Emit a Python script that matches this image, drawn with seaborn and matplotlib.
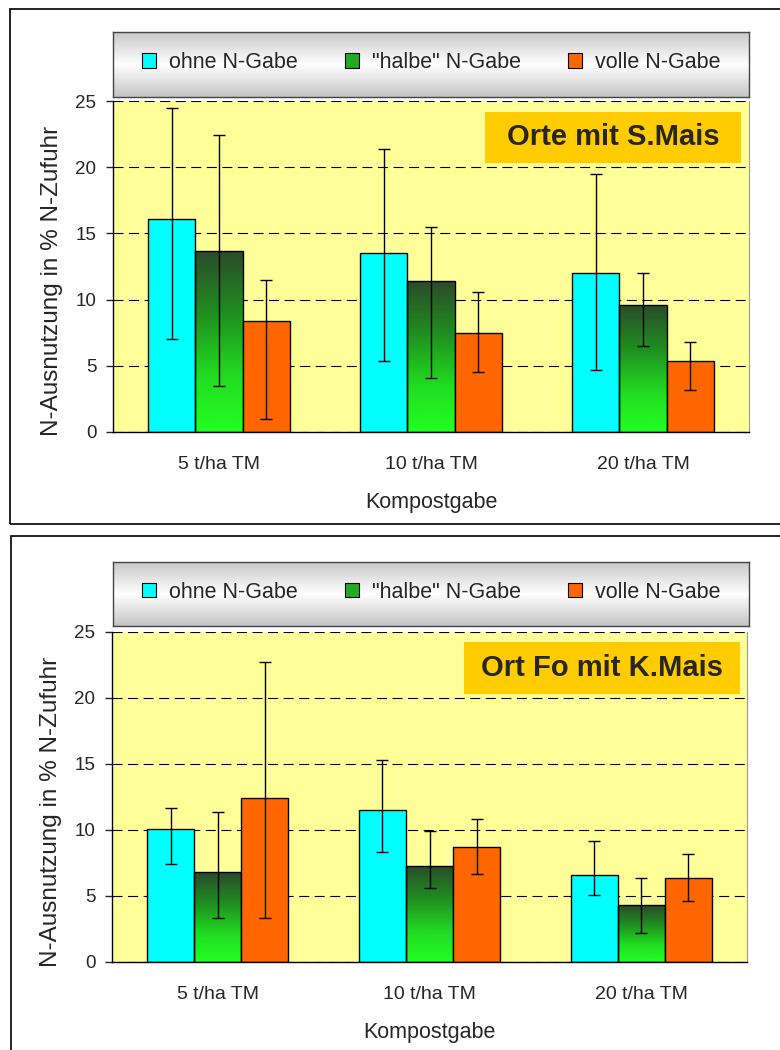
import numpy as np
import pandas as pd
import seaborn as sns
import matplotlib.pyplot as plt
import matplotlib.patches as mpatches
from matplotlib.colors import LinearSegmentedColormap

sns.set_style('white')
plt.rcParams['font.family'] = ['Liberation Sans', 'DejaVu Sans']

kategorien = ['5 t/ha TM', '10 t/ha TM', '20 t/ha TM']
varianten = ['ohne N-Gabe', '"halbe" N-Gabe', 'volle N-Gabe']
farben = ['#00FFFF', '#22AA22', '#FF6600']

# oben: Orte mit S.Mais
s_ohne = [16.1, 13.5, 12.0]
s_ohne_lo = [7.0, 5.4, 4.7]
s_ohne_hi = [24.5, 21.4, 19.5]
s_halbe = [13.7, 11.4, 9.6]
s_halbe_lo = [3.5, 4.1, 6.5]
s_halbe_hi = [22.4, 15.5, 12.0]
s_volle = [8.4, 7.5, 5.4]
s_volle_lo = [1.0, 4.5, 3.2]
s_volle_hi = [11.5, 10.6, 6.8]

# unten: Ort Fo mit K.Mais
k_ohne = [10.1, 11.5, 6.6]
k_ohne_lo = [7.4, 8.3, 5.1]
k_ohne_hi = [11.7, 15.3, 9.2]
k_halbe = [6.8, 7.3, 4.3]
k_halbe_lo = [3.3, 5.6, 2.2]
k_halbe_hi = [11.4, 9.9, 6.4]
k_volle = [12.4, 8.7, 6.4]
k_volle_lo = [3.3, 6.7, 4.6]
k_volle_hi = [22.7, 10.8, 8.2]

gruen_cmap = LinearSegmentedColormap.from_list(
    'gruen', [(0, '#2b4a2b'), (0.35, '#1f8f1f'), (0.7, '#22dd22'), (1, '#22ff22')])
grau_cmap = LinearSegmentedColormap.from_list('grau', ['#c8c8c8', '#ffffff', '#c4c4c4'])

W, H = 780, 1050
fig = plt.figure(figsize=(W / 100, H / 100), dpi=100)


def fx(px):
    return px / W


def fy(px):
    return 1 - px / H


def panel(ax_box, leg_box, werte, lo, hi, titel, titel_box):
    df = pd.DataFrame({
        'Kompostgabe': kategorien * 3,
        'Variante': np.repeat(varianten, 3),
        'wert': sum(werte, []),
    })
    ax = fig.add_axes(ax_box)
    ax.set_facecolor('#FFFF99')
    sns.barplot(data=df, x='Kompostgabe', y='wert', hue='Variante',
                palette=dict(zip(varianten, farben)), width=0.667, gap=0,
                saturation=1, edgecolor='black', linewidth=1,
                errorbar=None, legend=False, ax=ax, zorder=2)
    balken = list(ax.containers)

    # gruene Balken mit Verlauf
    grad = np.linspace(0, 1, 256).reshape(-1, 1)
    for bar in balken[1]:
        x0, w, h = bar.get_x(), bar.get_width(), bar.get_height()
        im = ax.imshow(grad, extent=[x0, x0 + w, 0, h], cmap=gruen_cmap,
                       aspect='auto', origin='upper', zorder=1.9)
        im.set_clip_path(bar)
        bar.set_facecolor('none')

    for i, cont in enumerate(balken):
        for j, bar in enumerate(cont):
            xc = bar.get_x() + bar.get_width() / 2
            v = werte[i][j]
            ax.errorbar(xc, v, yerr=[[v - lo[i][j]], [hi[i][j] - v]],
                        color='black', lw=1, capsize=4.5, capthick=1, zorder=3)

    ax.set_xlim(-0.5, 2.5)
    ax.set_ylim(0, 25)
    ax.set_yticks([0, 5, 10, 15, 20, 25])
    ax.set_axisbelow(True)
    ax.yaxis.grid(True, color='black', lw=0.8, linestyle=(0, (9, 5)))
    ax.set_xticks([-0.5, 0.5, 1.5, 2.5], minor=True)
    ax.tick_params(axis='x', which='major', length=0, pad=17, labelsize=14)
    ax.tick_params(axis='x', which='minor', length=5, direction='out', width=1)
    ax.tick_params(axis='y', length=5, direction='out', width=1, labelsize=13.5,
                   pad=7, left=True)
    for s in ['left', 'bottom']:
        ax.spines[s].set_color('black')
        ax.spines[s].set_linewidth(1)
    ax.spines['top'].set_visible(False)
    ax.spines['right'].set_color('#999999')
    ax.set_ylabel('N-Ausnutzung in % N-Zufuhr', fontsize=17.5)
    ax.yaxis.set_label_coords(-0.078, 0.455)
    ax.set_xlabel('Kompostgabe', fontsize=15.5, labelpad=14)

    # Titelkasten
    tx0, ty0, tx1, ty1 = titel_box
    ax.add_patch(mpatches.Rectangle((tx0, ty0), tx1 - tx0, ty1 - ty0,
                                    transform=ax.transAxes, facecolor='#FFCC00',
                                    edgecolor='none', zorder=4))
    ax.text((tx0 + tx1) / 2, (ty0 + ty1) / 2, titel, transform=ax.transAxes,
            ha='center', va='center', fontsize=21, fontweight='bold', zorder=5)

    # Legende mit grauem Verlauf
    lax = fig.add_axes(leg_box)
    lax.imshow(np.linspace(0, 1, 256).reshape(-1, 1), cmap=grau_cmap,
               aspect='auto', extent=[0, 1, 0, 1])
    lax.set_xticks([])
    lax.set_yticks([])
    for s in lax.spines.values():
        s.set_color('#444444')
        s.set_linewidth(1)
    handles = [mpatches.Patch(facecolor=c, edgecolor='black', lw=0.8) for c in farben]
    lax.legend(handles, varianten, loc='center', ncol=3, frameon=False,
               fontsize=15.5, handlelength=0.65, handleheight=0.65,
               handletextpad=0.6, columnspacing=2.2,
               bbox_to_anchor=(0.5, 0.53))
    return ax


panel([fx(113), fy(432), fx(636), 331 / H], [fx(113), fy(97), fx(636), 65 / H],
      [s_ohne, s_halbe, s_volle], [s_ohne_lo, s_halbe_lo, s_volle_lo],
      [s_ohne_hi, s_halbe_hi, s_volle_hi], 'Orte mit S.Mais',
      (0.585, 0.813, 0.987, 0.967))

panel([fx(112), fy(962), fx(635), 330 / H], [fx(113), fy(626), fx(636), 64 / H],
      [k_ohne, k_halbe, k_volle], [k_ohne_lo, k_halbe_lo, k_volle_lo],
      [k_ohne_hi, k_halbe_hi, k_volle_hi], 'Ort Fo mit K.Mais',
      (0.554, 0.812, 0.989, 0.970))

# Rahmen um beide Diagramme
fig.add_artist(mpatches.Rectangle((fx(10), fy(524)), fx(800), 515 / H, fill=False,
                                  edgecolor='black', lw=1.2, transform=fig.transFigure))
fig.add_artist(mpatches.Rectangle((fx(11), fy(1060)), fx(800), 524 / H, fill=False,
                                  edgecolor='black', lw=1.2, transform=fig.transFigure))

plt.savefig('out.png', dpi=100)
